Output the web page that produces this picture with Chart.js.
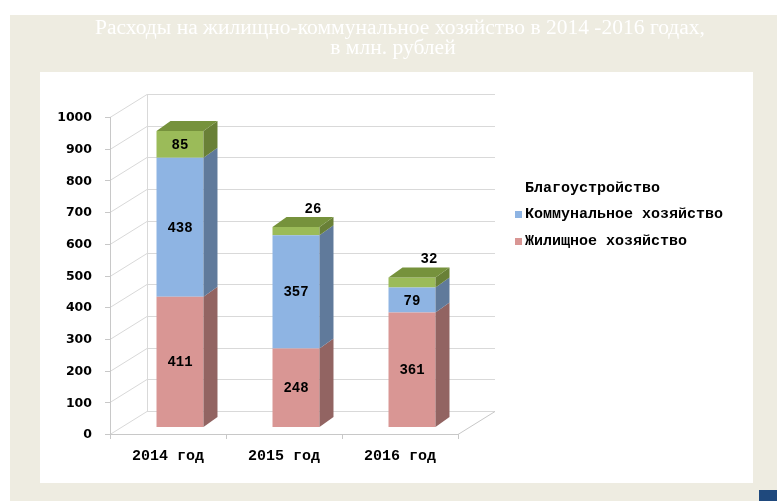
<!DOCTYPE html>
<html>
<head>
<meta charset="utf-8">
<script src="https://cdn.jsdelivr.net/npm/chart.js@4.4.0/dist/chart.umd.min.js"></script>
<style>
  html, body { margin: 0; padding: 0; background: #fff; overflow: hidden; }
</style>
</head>
<body>
<canvas id="myChart" width="777" height="501"></canvas>
<script>
// chart data
var years = ['2014 год', '2015 год', '2016 год'];
var housing = [411, 248, 361];
var utilities = [438, 357, 79];
var improvement = [85, 26, 32];
var yTicks = [0, 100, 200, 300, 400, 500, 600, 700, 800, 900, 1000];
var seriesNames = ['Жилищное хозяйство', 'Коммунальное хозяйство', 'Благоустройство'];
var titleLines = ['Расходы на жилищно-коммунальное хозяйство в 2014 -2016 годах,', 'в млн. рублей'];

// 3d look
var depth = { x: 37, y: -23 };      // floor / walls
var barShift = { x: 12, y: -7 };    // bars sit a bit inside the floor
var barDepth = { x: 14, y: -10 };
var faces = [
    { front: '#d99694', side: '#926462', top: '#b07876' },
    { front: '#8eb4e3', side: '#607a9b', top: '#7290b8' },
    { front: '#9bbb59', side: '#698037', top: '#76923c' }
];
var monoFont = 'bold 15px "Liberation Mono"';

var scene = {
    id: 'scene',
    beforeDraw: function (chart) {
        var ctx = chart.ctx;
        ctx.save();
        ctx.fillStyle = '#ffffff';
        ctx.fillRect(0, 0, chart.width, chart.height);
        ctx.fillStyle = '#eeece1';
        ctx.fillRect(10, 15, 767, 486);
        ctx.fillStyle = '#ffffff';
        ctx.fillRect(40, 72, 713, 411);
        ctx.fillStyle = '#1f497d';
        ctx.fillRect(759, 490, 18, 11);

        // title, stretched like the original
        ctx.fillStyle = '#ffffff';
        ctx.font = '20px "Liberation Serif"';
        ctx.textAlign = 'center';
        ctx.textBaseline = 'middle';
        var k = 610 / ctx.measureText(titleLines[0]).width;
        ctx.save();
        ctx.translate(400, 29);
        ctx.scale(k, 1);
        ctx.fillText(titleLines[0], 0, 0);
        ctx.restore();
        ctx.save();
        ctx.translate(393, 49);
        ctx.scale(k, 1);
        ctx.fillText(titleLines[1], 0, 0);
        ctx.restore();
        ctx.restore();
    },
    beforeDatasetsDraw: function (chart) {
        var ctx = chart.ctx;
        var area = chart.chartArea;
        var ys = chart.scales.y;
        var xs = chart.scales.x;
        var y0 = ys.getPixelForValue(0);
        var yTop = ys.getPixelForValue(1000);
        ctx.save();
        ctx.lineWidth = 1;
        ctx.strokeStyle = '#d9d9d9';
        yTicks.forEach(function (v) {
            var y = Math.round(ys.getPixelForValue(v)) + 0.5;
            ctx.beginPath();
            ctx.moveTo(area.left, y);
            ctx.lineTo(area.left + depth.x, y + depth.y);
            ctx.lineTo(area.right + depth.x, y + depth.y);
            ctx.stroke();
        });
        // back-left edge
        ctx.beginPath();
        ctx.moveTo(area.left + depth.x + 0.5, y0 + depth.y);
        ctx.lineTo(area.left + depth.x + 0.5, yTop + depth.y);
        ctx.stroke();
        // floor front and right edges
        ctx.strokeStyle = '#c8c8c8';
        ctx.beginPath();
        ctx.moveTo(area.left, Math.round(y0) + 0.5);
        ctx.lineTo(area.right, Math.round(y0) + 0.5);
        ctx.lineTo(area.right + depth.x, Math.round(y0) + 0.5 + depth.y);
        ctx.stroke();
        // value axis and tick marks
        ctx.beginPath();
        ctx.moveTo(area.left + 0.5, y0);
        ctx.lineTo(area.left + 0.5, yTop);
        yTicks.forEach(function (v) {
            var y = Math.round(ys.getPixelForValue(v)) + 0.5;
            ctx.moveTo(area.left - 5, y);
            ctx.lineTo(area.left, y);
        });
        var band = (area.right - area.left) / years.length;
        for (var i = 0; i <= years.length; i++) {
            var x = Math.round(area.left + band * i) + 0.5;
            ctx.moveTo(x, y0);
            ctx.lineTo(x, y0 + 5);
        }
        ctx.stroke();

        // tick labels
        ctx.fillStyle = '#000000';
        ctx.font = 'bold 12.5px "DejaVu Sans"';
        ctx.textAlign = 'right';
        ctx.textBaseline = 'middle';
        yTicks.forEach(function (v) {
            ctx.fillText(String(v), area.left - 18, ys.getPixelForValue(v) + 1);
        });
        ctx.font = monoFont;
        ctx.textAlign = 'center';
        years.forEach(function (label, i) {
            ctx.fillText(label, xs.getPixelForValue(i), y0 + 22);
        });
        ctx.restore();

        ctx.save();
        ctx.translate(barShift.x, barShift.y);
    },
    afterDatasetsDraw: function (chart) {
        var ctx = chart.ctx;
        ctx.restore();
        ctx.save();
        var n = chart.data.datasets.length;
        for (var d = 0; d < n; d++) {
            var meta = chart.getDatasetMeta(d);
            meta.data.forEach(function (bar) {
                var l = bar.x - bar.width / 2 + barShift.x;
                var r = bar.x + bar.width / 2 + barShift.x;
                var t = bar.y + barShift.y;
                var b = bar.base + barShift.y;
                ctx.fillStyle = faces[d].side;
                ctx.beginPath();
                ctx.moveTo(r, t);
                ctx.lineTo(r + barDepth.x, t + barDepth.y);
                ctx.lineTo(r + barDepth.x, b + barDepth.y);
                ctx.lineTo(r, b);
                ctx.closePath();
                ctx.fill();
                if (d === n - 1) {
                    ctx.fillStyle = faces[d].top;
                    ctx.beginPath();
                    ctx.moveTo(l, t);
                    ctx.lineTo(l + barDepth.x, t + barDepth.y);
                    ctx.lineTo(r + barDepth.x, t + barDepth.y);
                    ctx.lineTo(r, t);
                    ctx.closePath();
                    ctx.fill();
                }
            });
        }
        // data labels
        ctx.fillStyle = '#000000';
        ctx.font = 'bold 14px "Liberation Mono"';
        ctx.textAlign = 'center';
        ctx.textBaseline = 'middle';
        for (var d2 = 0; d2 < n; d2++) {
            var ds = chart.data.datasets[d2];
            chart.getDatasetMeta(d2).data.forEach(function (bar, i) {
                var v = ds.data[i];
                var cx = bar.x + barShift.x;
                var cy = (bar.y + bar.base) / 2 + barShift.y;
                if (v < 50) {
                    cx += 17;
                    cy = bar.y + barShift.y - 19;
                }
                ctx.fillText(String(v), cx, cy + 1);
            });
        }
        // legend, top series first
        ctx.font = monoFont;
        ctx.textAlign = 'left';
        var legendY = [241, 214, 188];
        for (var d3 = 0; d3 < n; d3++) {
            if (d3 < n - 1) {
                ctx.fillStyle = faces[d3].front;
                ctx.fillRect(515, legendY[d3] - 3, 7, 7);
            }
            ctx.fillStyle = '#000000';
            ctx.fillText(seriesNames[d3], 525, legendY[d3]);
        }
        ctx.restore();
    }
};

var ctx = document.getElementById('myChart').getContext('2d');
var chart = new Chart(ctx, {
    type: 'bar',
    data: {
        labels: years,
        datasets: [
            { label: seriesNames[0], data: housing, backgroundColor: faces[0].front },
            { label: seriesNames[1], data: utilities, backgroundColor: faces[1].front },
            { label: seriesNames[2], data: improvement, backgroundColor: faces[2].front }
        ]
    },
    options: {
        responsive: false,
        animation: false,
        devicePixelRatio: 1,
        layout: { padding: { left: 110, right: 319, top: 117, bottom: 67 } },
        datasets: { bar: { barPercentage: 0.405, categoryPercentage: 1, borderWidth: 0 } },
        scales: {
            x: { display: false, stacked: true, offset: true },
            y: { display: false, stacked: true, min: 0, max: 1000 }
        },
        plugins: { legend: { display: false }, tooltip: { enabled: false } }
    },
    plugins: [scene]
});
</script>
</body>
</html>
